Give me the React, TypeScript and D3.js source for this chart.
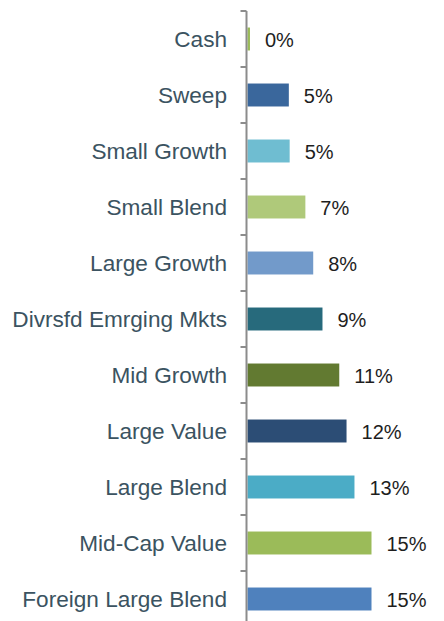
import React from "react";
import * as d3 from "d3";

const categories = [
  "Cash",
  "Sweep",
  "Small Growth",
  "Small Blend",
  "Large Growth",
  "Divrsfd Emrging Mkts",
  "Mid Growth",
  "Large Value",
  "Large Blend",
  "Mid-Cap Value",
  "Foreign Large Blend",
];
const values = [0.3, 5.0, 5.1, 7.0, 7.95, 9.07, 11.1, 11.98, 12.94, 15.0, 15.0];
const valueLabels = ["0%", "5%", "5%", "7%", "8%", "9%", "11%", "12%", "13%", "15%", "15%"];
const colors = [
  "#9bbb59",
  "#3a679c",
  "#6fbdd1",
  "#afc97a",
  "#729aca",
  "#276a7c",
  "#627a31",
  "#2c4d75",
  "#4bacc6",
  "#9bbb59",
  "#4f81bd",
];

const W = 444;
const H = 621;
const AXIS_X = 246.5;
const TOP = 11;
const STEP = 56;

export default function App() {
  const y = d3
    .scaleBand<string>()
    .domain(categories)
    .range([TOP, TOP + STEP * categories.length])
    .paddingInner(0.59)
    .paddingOuter(0.295);
  const x = d3.scaleLinear().domain([0, 15]).range([AXIS_X + 1, AXIS_X + 125]);
  const step = y.step();
  const tickYs = d3.range(categories.length + 1).map((i) => TOP + i * step);
  const font = "'Liberation Sans', Arial, sans-serif";

  return (
    <svg
      width={W}
      height={H}
      style={{ position: "absolute", left: 0, top: 0, background: "#fff" }}
    >
      {categories.map((c, i) => {
        const yy = y(c)!;
        const bw = y.bandwidth();
        const cy = yy + bw / 2;
        return (
          <g key={c}>
            <rect
              x={x(0)}
              y={yy}
              width={Math.max(0, x(values[i]) - x(0))}
              height={bw}
              fill={colors[i]}
            />
            <text
              x={227}
              y={cy + 7.5}
              textAnchor="end"
              fontFamily={font}
              fontSize={22.6}
              fill="#3b5361"
            >
              {c}
            </text>
            <text
              x={x(values[i]) + 15}
              y={cy + 8}
              textAnchor="start"
              fontFamily={font}
              fontSize={20}
              fill="#1e1e1e"
            >
              {valueLabels[i]}
            </text>
          </g>
        );
      })}
      <line x1={AXIS_X} x2={AXIS_X} y1={TOP} y2={H} stroke="#8c8c8c" strokeWidth={2} />
      {tickYs.map((t, i) => (
        <line key={i} x1={AXIS_X - 6} x2={AXIS_X} y1={t} y2={t} stroke="#8c8c8c" strokeWidth={2} />
      ))}
    </svg>
  );
}
